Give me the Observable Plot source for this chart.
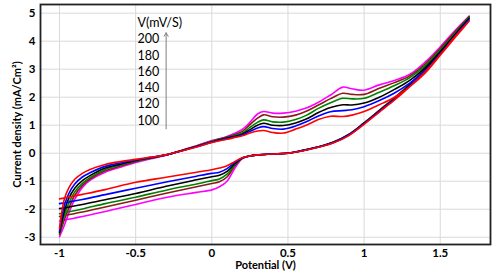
<!DOCTYPE html>
<html>
<head>
<meta charset="utf-8">
<script src="https://cdn.jsdelivr.net/npm/d3@7"></script>
<script src="https://cdn.jsdelivr.net/npm/@observablehq/plot@0.6"></script>
<style>
  html, body { margin: 0; padding: 0; background: #fff; }
  #chart svg { display: block; }
</style>
</head>
<body>
<div id="chart"></div>
<script>
// Scan rates (mV/s) and the legend heading
const scanRates = [100, 120, 140, 160, 180, 200];
const legendTitle = "V(mV/S)";
const lineColors = ["#ff0000", "#0000ff", "#000000", "#008000", "#8b1a1a", "#ff00ff"];

// Axis ticks
const xTicks = [-1, -0.5, 0, 0.5, 1, 1.5];
const yTicks = [-3, -2, -1, 0, 1, 2, 3, 4, 5];

// Forward (anodic) scan potentials, V
const potentialsUp = [-1, -0.97, -0.94, -0.9, -0.85, -0.8, -0.7, -0.6, -0.5, -0.4, -0.3, -0.2, -0.1, 0, 0.1, 0.2, 0.25, 0.3, 0.34, 0.4, 0.47, 0.55, 0.62, 0.7, 0.78, 0.86, 0.92, 1.0, 1.1, 1.2, 1.3, 1.4, 1.5, 1.6, 1.69];
// Reverse (cathodic) scan potentials, V
const potentialsDown = [1.69, 1.6, 1.5, 1.4, 1.3, 1.2, 1.1, 1.0, 0.9, 0.8, 0.7, 0.6, 0.5, 0.4, 0.3, 0.25, 0.2, 0.15, 0.1, 0.05, 0, -0.1, -0.3, -0.5, -0.7, -0.85, -1];

// Current density, mA/cm², forward scan
const up100 = [-2.7, -1.67, -1.25, -0.93, -0.72, -0.58, -0.4, -0.3, -0.22, -0.14, -0.06, 0.08, 0.22, 0.38, 0.5, 0.62, 0.72, 0.79, 0.81, 0.74, 0.72, 0.86, 1.0, 1.2, 1.32, 1.31, 1.36, 1.49, 1.73, 2.0, 2.38, 2.86, 3.5, 4.15, 4.72];
const up120 = [-2.78, -1.9, -1.45, -1.1, -0.85, -0.7, -0.47, -0.35, -0.24, -0.15, -0.06, 0.08, 0.23, 0.39, 0.52, 0.65, 0.78, 0.9, 0.95, 0.88, 0.86, 0.97, 1.12, 1.33, 1.48, 1.52, 1.55, 1.66, 1.88, 2.15, 2.5, 2.95, 3.55, 4.2, 4.76];
const up140 = [-2.82, -2.1, -1.62, -1.25, -0.98, -0.8, -0.53, -0.39, -0.26, -0.16, -0.06, 0.09, 0.24, 0.4, 0.54, 0.68, 0.84, 1.0, 1.07, 1.0, 0.99, 1.08, 1.22, 1.45, 1.63, 1.73, 1.72, 1.79, 2.0, 2.28, 2.6, 3.05, 3.62, 4.26, 4.82];
const up160 = [-2.86, -2.25, -1.8, -1.38, -1.08, -0.87, -0.58, -0.42, -0.28, -0.17, -0.06, 0.09, 0.25, 0.42, 0.56, 0.72, 0.92, 1.1, 1.19, 1.12, 1.11, 1.2, 1.35, 1.6, 1.8, 1.96, 1.94, 1.96, 2.18, 2.42, 2.7, 3.12, 3.68, 4.3, 4.86];
const up180 = [-2.9, -2.4, -1.98, -1.5, -1.15, -0.92, -0.63, -0.46, -0.3, -0.18, -0.06, 0.1, 0.26, 0.43, 0.58, 0.78, 1.02, 1.25, 1.37, 1.3, 1.29, 1.36, 1.5, 1.72, 1.95, 2.14, 2.1, 2.1, 2.32, 2.52, 2.76, 3.18, 3.74, 4.35, 4.88];
const up200 = [-2.98, -2.6, -2.15, -1.65, -1.22, -0.97, -0.68, -0.5, -0.33, -0.2, -0.07, 0.1, 0.27, 0.45, 0.6, 0.85, 1.1, 1.4, 1.49, 1.43, 1.43, 1.5, 1.61, 1.82, 2.08, 2.36, 2.3, 2.25, 2.44, 2.6, 2.82, 3.25, 3.8, 4.4, 4.9];

// Current density, mA/cm², reverse scan
const down100 = [4.72, 4.18, 3.52, 2.9, 2.38, 1.9, 1.47, 1.03, 0.63, 0.37, 0.21, 0.09, 0.0, -0.03, -0.06, -0.1, -0.16, -0.3, -0.45, -0.53, -0.59, -0.68, -0.86, -1.04, -1.3, -1.47, -1.63];
const down120 = [4.76, 4.2, 3.54, 2.92, 2.4, 1.92, 1.49, 1.05, 0.65, 0.38, 0.22, 0.1, 0.0, -0.03, -0.06, -0.1, -0.17, -0.33, -0.55, -0.68, -0.72, -0.82, -1.03, -1.25, -1.48, -1.65, -1.8];
const down140 = [4.82, 4.24, 3.58, 2.96, 2.43, 1.95, 1.51, 1.07, 0.66, 0.39, 0.22, 0.1, 0.0, -0.03, -0.06, -0.1, -0.17, -0.38, -0.65, -0.79, -0.84, -0.95, -1.18, -1.44, -1.66, -1.83, -1.98];
const down160 = [4.86, 4.27, 3.61, 2.99, 2.45, 1.97, 1.52, 1.08, 0.67, 0.4, 0.23, 0.1, 0.0, -0.03, -0.06, -0.1, -0.18, -0.42, -0.75, -0.92, -0.98, -1.1, -1.32, -1.57, -1.8, -1.99, -2.16];
const down180 = [4.88, 4.28, 3.62, 3.0, 2.46, 1.98, 1.53, 1.08, 0.67, 0.4, 0.23, 0.1, 0.0, -0.03, -0.06, -0.1, -0.18, -0.46, -0.85, -1.02, -1.08, -1.2, -1.43, -1.68, -1.92, -2.1, -2.26];
const down200 = [4.9, 4.3, 3.63, 3.0, 2.47, 1.98, 1.53, 1.08, 0.67, 0.4, 0.23, 0.1, 0.0, -0.03, -0.06, -0.1, -0.19, -0.55, -1.0, -1.2, -1.31, -1.4, -1.58, -1.83, -2.08, -2.26, -2.42];

const upByRate = {100: up100, 120: up120, 140: up140, 160: up160, 180: up180, 200: up200};
const downByRate = {100: down100, 120: down120, 140: down140, 160: down160, 180: down180, 200: down200};

// Build the table: draw 200 first so 100 (red) ends on top
const rows = [];
for (const rate of scanRates.slice().reverse()) {
  potentialsUp.forEach((v, i) => rows.push({rate, v, j: upByRate[rate][i]}));
  potentialsDown.forEach((v, i) => rows.push({rate, v, j: downByRate[rate][i]}));
}

const legendText = [legendTitle, ...scanRates.slice().reverse().map(String)].join("\n");
const font = "Lato, 'Open Sans', sans-serif";

const chart = Plot.plot({
  width: 500,
  height: 278,
  marginLeft: 40,
  marginRight: 10,
  marginTop: 4,
  marginBottom: 34,
  style: {fontFamily: font, fontSize: "11px", background: "#fff"},
  x: {domain: [-1.125, 1.83]},
  y: {domain: [-3.26, 5.31]},
  color: {type: "ordinal", domain: scanRates, range: lineColors},
  marks: [
    Plot.gridX(xTicks, {stroke: "#d9d9d9", strokeOpacity: 1, strokeWidth: 1}),
    Plot.gridY(yTicks, {stroke: "#d9d9d9", strokeOpacity: 1, strokeWidth: 1}),
    Plot.axisX(xTicks, {tickSize: 0, tickPadding: 4, tickFormat: d => String(d), fontWeight: "bold", fontSize: 11.5, label: null}),
    Plot.axisY(yTicks, {tickSize: 0, tickPadding: 5, tickFormat: d => String(d), fontWeight: "bold", fontSize: 11.5, label: null}),
    Plot.line(rows, {x: "v", y: "j", z: "rate", stroke: "rate", strokeWidth: 1.6, curve: "catmull-rom"}),
    Plot.arrow([0], {x1: -0.3, x2: -0.3, y1: 0.87, y2: 4.3, stroke: "#7f7f7f", strokeWidth: 1, headLength: 6}),
    Plot.text([legendText], {text: d => d, frameAnchor: "top-left", dx: 97, dy: 11, textAnchor: "start", lineAnchor: "top", lineHeight: 1.3, fontSize: 12.5, fill: "#000"}),
    Plot.text(["Potential (V)"], {text: d => d, frameAnchor: "bottom", dy: 24, fontWeight: "bold", fontSize: 11, fill: "#000"}),
    Plot.text(["Current density (mA/Cm²)"], {text: d => d, frameAnchor: "left", textAnchor: "middle", dx: -23, rotate: -90, fontWeight: "bold", fontSize: 11, fill: "#000"}),
    Plot.frame({stroke: "#222", strokeWidth: 1.8})
  ]
});
document.getElementById("chart").appendChild(chart);
</script>
</body>
</html>
